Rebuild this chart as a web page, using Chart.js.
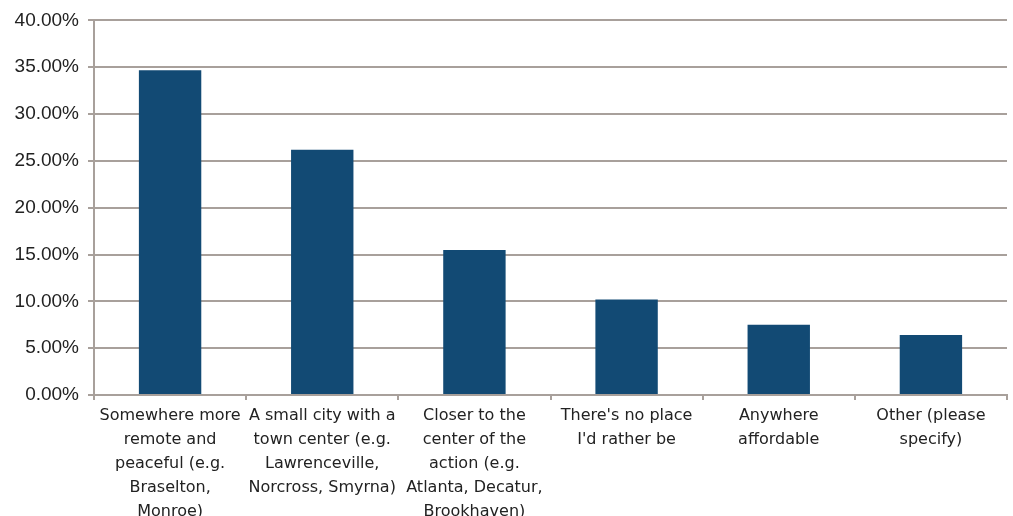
<!DOCTYPE html>
<html>
<head>
<meta charset="utf-8">
<script src="https://cdn.jsdelivr.net/npm/chart.js@4"></script>
<style>
  html, body { margin: 0; padding: 0; background: #fff; }
  #wrap { width: 1013px; height: 516px; }
</style>
</head>
<body>
<div id="wrap"><canvas id="chart" width="1013" height="516"></canvas></div>
<script>
var categories = [
  ['Somewhere more', 'remote and', 'peaceful (e.g.', 'Braselton,', 'Monroe)'],
  ['A small city with a', 'town center (e.g.', 'Lawrenceville,', 'Norcross, Smyrna)'],
  ['Closer to the', 'center of the', 'action (e.g.', 'Atlanta, Decatur,', 'Brookhaven)'],
  ["There's no place", "I'd rather be"],
  ['Anywhere', 'affordable'],
  ['Other (please', 'specify)']
];
var shares = [34.67, 26.2, 15.47, 10.2, 7.5, 6.4];
var yTicks = [0, 5, 10, 15, 20, 25, 30, 35, 40];

var gridColor = '#a8a09b';
var textColor = '#222222';

var ctx = document.getElementById('chart').getContext('2d');
new Chart(ctx, {
  type: 'bar',
  data: {
    labels: categories,
    datasets: [{
      data: shares,
      backgroundColor: '#124a74',
      borderWidth: 0,
      categoryPercentage: 0.41,
      barPercentage: 1
    }]
  },
  options: {
    responsive: false,
    animation: false,
    layout: { padding: { top: 10, right: 6, left: 0, bottom: 0 } },
    plugins: { legend: { display: false }, tooltip: { enabled: false } },
    scales: {
      x: {
        offset: true,
        border: { color: gridColor, width: 2 },
        grid: {
          offset: true,
          drawOnChartArea: false,
          drawTicks: true,
          tickLength: 5,
          color: gridColor,
          lineWidth: 2
        },
        ticks: {
          color: textColor,
          autoSkip: false,
          maxRotation: 0,
          minRotation: 0,
          padding: 4,
          font: { family: 'DejaVu Sans', size: 16, lineHeight: 1.5 }
        },
        afterFit: function (scale) { scale.height = 121; }
      },
      y: {
        min: 0,
        max: 40,
        border: { color: gridColor, width: 2 },
        grid: {
          color: gridColor,
          lineWidth: 2,
          tickLength: 6
        },
        afterBuildTicks: function (scale) {
          scale.ticks = yTicks.map(function (v) { return { value: v }; });
        },
        ticks: {
          color: textColor,
          padding: 9,
          font: { family: 'Liberation Sans', size: 19 },
          callback: function (v) { return v.toFixed(2) + '%'; }
        },
        afterFit: function (scale) { scale.width = 94; }
      }
    }
  }
});
</script>
</body>
</html>
